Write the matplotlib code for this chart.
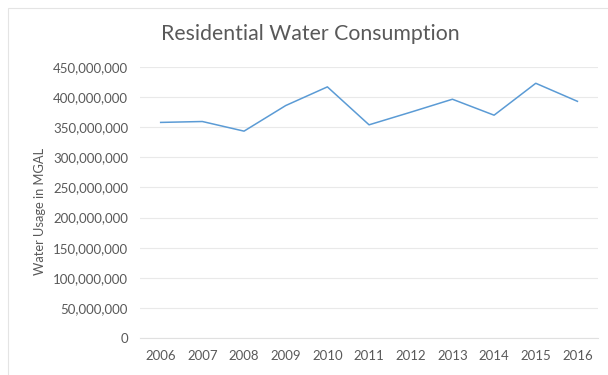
import matplotlib
matplotlib.use("Agg")
import matplotlib.pyplot as plt
from matplotlib.ticker import FuncFormatter
from matplotlib.patches import Rectangle

years = ["2006", "2007", "2008", "2009", "2010", "2011",
         "2012", "2013", "2014", "2015", "2016"]
usage = [358e6, 359.5e6, 343.5e6, 386e6, 417e6, 354e6,
         375e6, 396.5e6, 370e6, 423e6, 393e6]
yticks = list(range(0, 450000001, 50000000))

plt.rcParams['font.family'] = ['Lato', 'DejaVu Sans']
txt = '#595959'

fig = plt.figure(figsize=(6.08, 3.75), dpi=100)
ax = fig.add_axes([0.230, 0.0987, 0.754, 0.7226])

x = list(range(len(years)))
ax.plot(x, usage, color='#5B9BD5', lw=1.1)

ax.set_xlim(-0.5, len(years) - 0.5)
ax.set_ylim(0, 450000000)
ax.set_yticks(yticks)
ax.yaxis.set_major_formatter(FuncFormatter(lambda v, p: f"{int(v):,}"))
ax.set_xticks(x)
ax.set_xticklabels(years)
ax.grid(axis='y', color='#e9e9e9', lw=0.8)
ax.set_axisbelow(True)
for s in ['top', 'right', 'left']:
    ax.spines[s].set_visible(False)
ax.spines['bottom'].set_color('#e0e0e0')
ax.tick_params(axis='both', length=0, colors=txt, labelsize=9.5)
ax.tick_params(axis='y', pad=8.5)
ax.tick_params(axis='x', pad=9)

fig.text(0.51, 0.909, "Residential Water Consumption", ha='center',
         va='center', fontsize=15.3, color=txt)
fig.text(0.066, 0.437, "Water Usage in MGAL", rotation=90, ha='center',
         va='center', fontsize=9.3, color=txt)

# light chart border
fig.patches.append(Rectangle((0.013, -0.05), 1.1, 1.03, transform=fig.transFigure,
                             fill=False, edgecolor='#e4e4e4', lw=0.8))

fig.savefig("out.png", dpi=100)
